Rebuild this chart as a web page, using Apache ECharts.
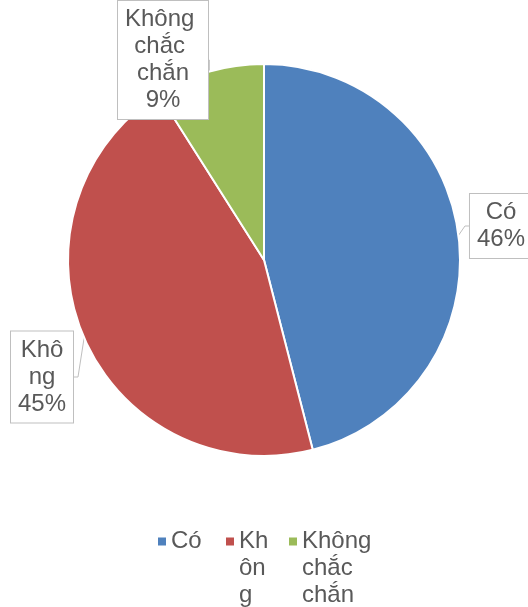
<!DOCTYPE html>
<html>
<head>
<meta charset="utf-8">
<script src="https://cdn.jsdelivr.net/npm/echarts@6/dist/echarts.min.js"></script>
<style>
html, body { margin: 0; padding: 0; background: #fff; }
#chart { width: 528px; height: 607px; }
</style>
</head>
<body>
<div id="chart"></div>
<script>
// Survey answers and their shares (percent)
const categories = ['Có', 'Không', 'Không chắc chắn'];
const values = [46, 45, 9];
const colors = ['#4f81bd', '#c0504d', '#9bbb59'];

// Label centre points and wrap widths for each slice
const labelSpots = [
  { x: 501, y: 226 },
  { x: 42, y: 377 },
  { x: 163, y: 60 }
];
const labelWidths = [null, 58, 88];
const labelWrap = [null, 'breakAll', 'break'];
const labelPadX = [7, 2, 1];

// Legend text box widths
const legendWidths = [45, 40, 82];
const legendWrap = [null, 'breakAll', null];

const FONT = 'Liberation Sans, Arial, sans-serif';
const TEXT = '#595959';
const LH = 27;
const LEG_LINES = 3;
const LEG_H = LH * LEG_LINES;

// Square marker level with the first text line of a legend entry
const firstLine = LH / 2;
const LEG_ICON = 'path://M0,0L0.01,0M0,' + (firstLine - 4) + 'L8,' + (firstLine - 4) +
  'L8,' + (firstLine + 4) + 'L0,' + (firstLine + 4) + 'ZM0,' + LEG_H + 'L0.01,' + LEG_H;

const chart = echarts.init(document.getElementById('chart'), null, { renderer: 'canvas' });

const pieData = categories.map((name, i) => {
  const item = {
    name: name,
    value: values[i],
    itemStyle: { color: colors[i] },
    label: { padding: [5, labelPadX[i], 5, labelPadX[i]] }
  };
  if (labelWidths[i]) {
    item.label.width = labelWidths[i];
    item.label.overflow = labelWrap[i];
  }
  return item;
});

const legendData = categories.map((name, i) => {
  const ts = { width: legendWidths[i] };
  if (legendWrap[i]) ts.overflow = legendWrap[i];
  return { name: name, icon: LEG_ICON, textStyle: ts };
});

chart.setOption({
  animation: false,
  backgroundColor: '#fff',
  legend: {
    data: legendData,
    left: 153,
    top: 523,
    itemWidth: 8,
    itemHeight: LEG_H,
    itemGap: 10,
    selectedMode: false,
    itemStyle: { borderWidth: 0 },
    // every entry fills a three-line box so all rows start level
    formatter: function (name) {
      const words = name.split(' ');
      if (words.length > 1) return words.join('\n');
      return name === 'Có' ? name + '\n\n' : name;
    },
    textStyle: { fontFamily: FONT, fontSize: 24, lineHeight: LH, color: TEXT }
  },
  series: [{
    type: 'pie',
    center: [264, 260],
    radius: 196,
    startAngle: 90,
    clockwise: true,
    avoidLabelOverlap: false,
    data: pieData,
    itemStyle: { borderColor: '#fff', borderWidth: 2 },
    label: {
      show: true,
      formatter: '{b}\n{d}%',
      fontFamily: FONT,
      fontSize: 24,
      lineHeight: LH,
      color: TEXT,
      align: 'center',
      overflow: 'none',
      bleedMargin: -300,
      backgroundColor: '#fff',
      borderColor: '#bfbfbf',
      borderWidth: 1
    },
    labelLine: {
      show: true,
      length: 6,
      length2: 4,
      lineStyle: { color: '#bfbfbf', width: 1 }
    },
    labelLayout: function (params) {
      const p = labelSpots[params.dataIndex];
      return { x: p.x, y: p.y, align: 'center', verticalAlign: 'middle' };
    }
  }]
});
</script>
</body>
</html>
